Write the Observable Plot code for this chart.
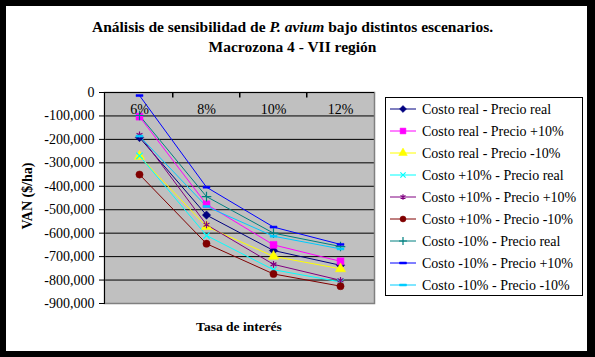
<!DOCTYPE html>
<html>
<head>
<meta charset="utf-8">
<script src="https://cdn.jsdelivr.net/npm/d3@7"></script>
<script src="https://cdn.jsdelivr.net/npm/@observablehq/plot@0.6"></script>
<style>
  html, body { margin: 0; padding: 0; }
  body { width: 595px; height: 357px; background: #000; position: relative; overflow: hidden; font-family: "Liberation Serif", serif; color: #000; }
  #card { position: absolute; left: 6px; top: 6px; width: 581px; height: 345px; background: #fff; }
  #plot { position: absolute; left: 0; top: 0; }
  .t { position: absolute; white-space: nowrap; font-weight: bold; }
  #title1 { left: 0; width: 585px; top: 18px; text-align: center; font-size: 15.5px; line-height: 18px; }
  #title2 { left: 0; width: 585px; top: 38px; text-align: center; font-size: 15.5px; line-height: 18px; }
  #ytitle { left: 28px; top: 196px; font-size: 14px; transform: translate(-50%, -50%) rotate(-90deg); }
  #xtitle { left: 239px; top: 327px; font-size: 13.5px; transform: translate(-50%, -50%); }
  #legend { position: absolute; left: 385px; top: 97px; width: 198px; height: 199px; box-sizing: border-box; border: 1px solid #000; background: #fff; }
</style>
</head>
<body>
<div id="card"></div>
<div id="plot"></div>
<div class="t" id="title1">Análisis de sensibilidad de <i>P. avium</i> bajo distintos escenarios.</div>
<div class="t" id="title2">Macrozona 4 - VII región</div>
<div class="t" id="ytitle">VAN ($/ha)</div>
<div class="t" id="xtitle">Tasa de interés</div>
<div id="legend"></div>
<script>
// Categories (interest rates)
const rates = ["6%", "8%", "10%", "12%"];
// Y tick values
const yTicks = [0, -100000, -200000, -300000, -400000, -500000, -600000, -700000, -800000, -900000];

// Series names
const seriesNames = [
  "Costo real - Precio real",
  "Costo real - Precio +10%",
  "Costo real - Precio -10%",
  "Costo +10% - Precio real",
  "Costo +10% - Precio +10%",
  "Costo +10% - Precio -10%",
  "Costo -10% - Precio real",
  "Costo -10% - Precio +10%",
  "Costo -10% - Precio -10%"
];

// Series values (VAN $/ha) at 6%, 8%, 10%, 12%
const costoReal_precioReal   = [-192000, -523000, -674000, -737000];
const costoReal_precioMas10  = [-103000, -477000, -650000, -720000];
const costoReal_precioMenos10 = [-272000, -572000, -699000, -752000];
const costoMas10_precioReal  = [-270000, -610000, -756000, -808000];
const costoMas10_precioMas10 = [-181000, -564000, -733000, -801000];
const costoMas10_precioMenos10 = [-350000, -645000, -774000, -826000];
const costoMenos10_precioReal = [-98000, -444000, -600000, -657000];
const costoMenos10_precioMas10 = [-13000, -404000, -574000, -648000];
const costoMenos10_precioMenos10 = [-186000, -486000, -613000, -667000];

const seriesValues = [
  costoReal_precioReal, costoReal_precioMas10, costoReal_precioMenos10,
  costoMas10_precioReal, costoMas10_precioMas10, costoMas10_precioMenos10,
  costoMenos10_precioReal, costoMenos10_precioMas10, costoMenos10_precioMenos10
];

// Styles
const dash = { draw(ctx, size) { ctx.moveTo(-3.5, -1); ctx.lineTo(3.5, -1); ctx.lineTo(3.5, 1); ctx.lineTo(-3.5, 1); ctx.closePath(); } };
const styles = [
  { color: "#000080", symbol: "diamond2", d3sym: d3.symbolDiamond2, filled: true, r: 3.8 },
  { color: "#FF00FF", symbol: "square", d3sym: d3.symbolSquare, filled: true, r: 3.9 },
  { color: "#FFFF00", symbol: "triangle", d3sym: d3.symbolTriangle, filled: true, r: 3.8 },
  { color: "#00FFFF", symbol: "times", d3sym: d3.symbolTimes, filled: false, r: 3 },
  { color: "#800080", symbol: "asterisk", d3sym: d3.symbolAsterisk, filled: false, r: 3.2 },
  { color: "#800000", symbol: "circle", d3sym: d3.symbolCircle, filled: true, r: 3.6 },
  { color: "#008080", symbol: "plus", d3sym: d3.symbolPlus, filled: false, r: 3.2 },
  { color: "#0000FF", symbol: dash, d3sym: dash, filled: true, r: 3 },
  { color: "#00CCFF", symbol: dash, d3sym: dash, filled: true, r: 3 }
];

const rowsFor = i => rates.map((r, j) => ({ serie: seriesNames[i], rate: r, value: seriesValues[i][j] }));

const lineMarks = seriesNames.map((s, i) => Plot.line(rowsFor(i), { x: "rate", y: "value", stroke: styles[i].color, strokeWidth: 1 }));
const dotMarks = seriesNames.map((s, i) => Plot.dot(rowsFor(i), {
  x: "rate", y: "value", symbol: styles[i].symbol, r: styles[i].r,
  fill: styles[i].filled ? styles[i].color : "none",
  stroke: styles[i].color, strokeWidth: styles[i].filled ? 0.5 : 1.2
}));

const tickDown = { draw(ctx) { ctx.moveTo(0, 0); ctx.lineTo(0, 5); } };

const chart = Plot.plot({
  width: 595,
  height: 357,
  marginLeft: 104,
  marginRight: 221,
  marginTop: 92,
  marginBottom: 54,
  style: { background: "transparent", fontFamily: "Liberation Serif", fontSize: "14px", color: "#000", overflow: "visible" },
  x: { type: "point", domain: rates, padding: 0.5, axis: null },
  y: { domain: [-900000, 0], axis: null },
  marks: [
    Plot.frame({ fill: "#C0C0C0", stroke: "none" }),
    Plot.gridY(yTicks, { stroke: "#000", strokeOpacity: 1, strokeWidth: 1 }),
    Plot.frame({ stroke: "#808080", strokeWidth: 1.5 }),
    Plot.ruleY([0], { stroke: "#000", strokeWidth: 1 }),
    Plot.dot(rates.slice(1), { x: d => d, y: () => 0, dx: -33.75, symbol: tickDown, stroke: "#000", r: 3 }),
    Plot.frame({ anchor: "left", stroke: "#000", strokeWidth: 1 }),
    Plot.axisY(yTicks, { tickSize: 5, tickPadding: 5, tickFormat: d => d.toLocaleString("en-US"), label: null, fontSize: 14, stroke: "#000" }),
    ...lineMarks,
    ...dotMarks,
    Plot.text(rates, { x: d => d, frameAnchor: "top", dy: 12, fontSize: 14, fill: "#000" })
  ]
});
document.getElementById("plot").appendChild(chart);

// Legend
const legend = d3.select("#legend").append("svg").attr("width", 196).attr("height", 197).style("display", "block");
seriesNames.forEach((s, i) => {
  const g = legend.append("g").attr("transform", `translate(0, ${11 + 22 * i})`);
  g.append("line").attr("x1", 4).attr("x2", 30).attr("y1", 0).attr("y2", 0).attr("stroke", styles[i].color).attr("stroke-width", 1);
  g.append("path")
    .attr("transform", "translate(17,0)")
    .attr("d", d3.symbol(styles[i].d3sym, Math.PI * styles[i].r * styles[i].r * 0.7)())
    .attr("fill", styles[i].filled ? styles[i].color : "none")
    .attr("stroke", styles[i].color)
    .attr("stroke-width", styles[i].filled ? 0.5 : 1.2);
  g.append("text").attr("x", 36).attr("y", 0).attr("dy", "0.35em")
    .attr("font-family", "Liberation Serif").attr("font-size", 14).attr("fill", "#000").text(s);
});
</script>
</body>
</html>
